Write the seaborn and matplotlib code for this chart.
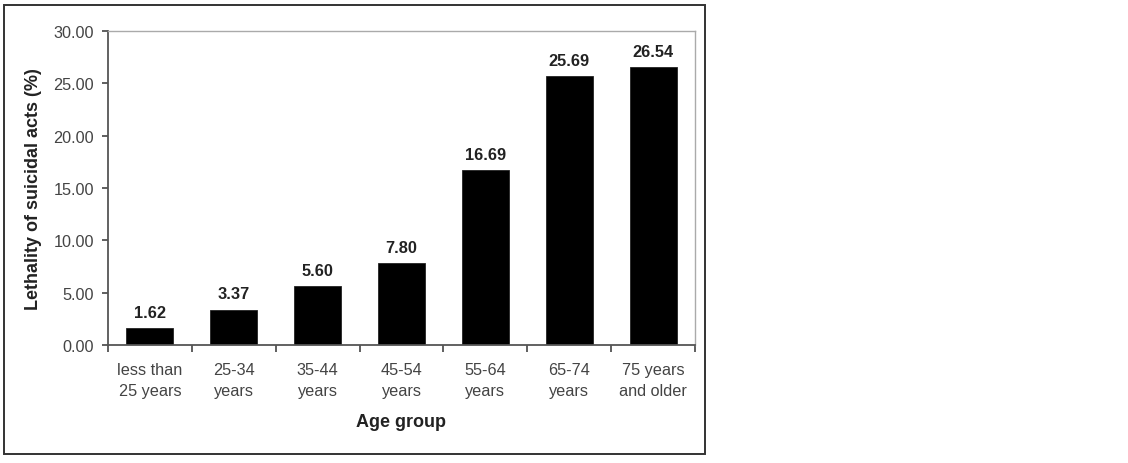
import seaborn as sns
import matplotlib.pyplot as plt
import pandas as pd
from matplotlib.patches import Rectangle
from matplotlib.ticker import FixedLocator

sns.set_theme(style="white")
plt.rcParams['font.family'] = ['Liberation Sans', 'DejaVu Sans']

### data
age_groups = ['less than\n25 years', '25-34\nyears', '35-44\nyears', '45-54\nyears',
              '55-64\nyears', '65-74\nyears', '75 years\nand older']
lethality = [1.62, 3.37, 5.60, 7.80, 16.69, 25.69, 26.54]
y_ticks = [0, 5, 10, 15, 20, 25, 30]

df = pd.DataFrame({'Age group': age_groups, 'Lethality': lethality})

### figure
fig = plt.figure(figsize=(11.28, 4.64), dpi=100)
ax = fig.add_axes([108/1128, 1-346/464, (695-108)/1128, (346-32)/464])

sns.barplot(data=df, x='Age group', y='Lethality', color='black', width=0.56,
            saturation=1, edgecolor='#222222', linewidth=0.6, ax=ax)

ax.bar_label(ax.containers[0], fmt='%.2f', padding=6, fontsize=11.8,
             fontweight='bold', color='#222222')

ax.set_ylim(0, 30)
ax.set_xlim(-0.5, len(age_groups) - 0.5)
ax.set_yticks(y_ticks)
ax.set_yticklabels([f'{v:.2f}' for v in y_ticks], fontsize=11.7, color='#444444')
ax.set_xticklabels(age_groups, fontsize=11.7, color='#444444', linespacing=1.5)

# category boundary ticks like the original spreadsheet chart
ax.xaxis.set_minor_locator(FixedLocator([i - 0.5 for i in range(len(age_groups) + 1)]))
ax.tick_params(axis='x', which='major', length=0, pad=12)
ax.tick_params(axis='x', which='minor', bottom=True, length=5, width=1.2, color='#444444')
ax.tick_params(axis='y', left=True, length=4, width=1.2, color='#444444', pad=6)

ax.set_xlabel('Age group', fontsize=13, fontweight='bold', color='#222222', labelpad=11)
ax.set_ylabel('Lethality of suicidal acts (%)', fontsize=13, fontweight='bold',
              color='#222222', labelpad=8)

for side in ['left', 'bottom']:
    ax.spines[side].set_color('#555555')
    ax.spines[side].set_linewidth(1.3)
for side in ['top', 'right']:
    ax.spines[side].set_color('#aaaaaa')
    ax.spines[side].set_linewidth(1.0)

# outer frame around the chart
fig.patches.append(Rectangle((4/1128, 1-455/464), (705-4)/1128, (455-6)/464,
                             transform=fig.transFigure, fill=False,
                             edgecolor='#333333', linewidth=1.4))

fig.savefig('out.png', dpi=100)
